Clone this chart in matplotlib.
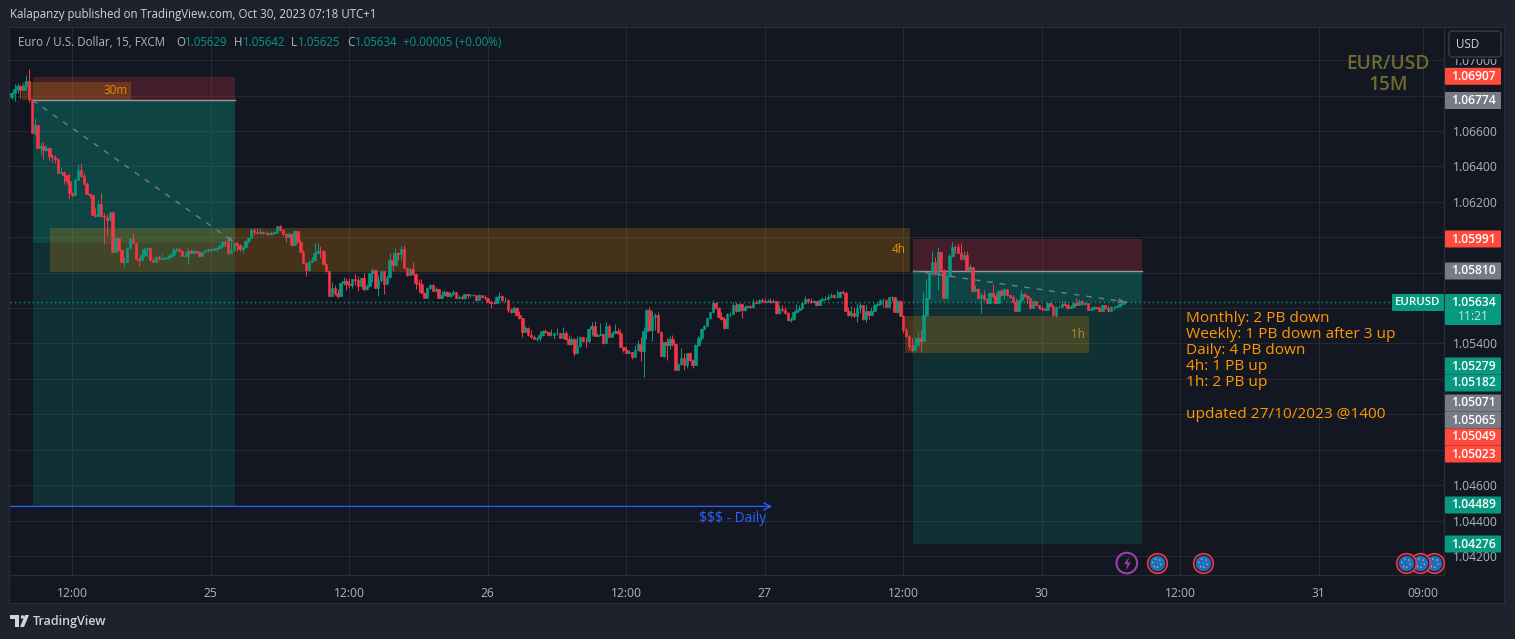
import matplotlib
matplotlib.use("Agg")
import numpy as np
import matplotlib.pyplot as plt
from matplotlib.patches import Rectangle, Polygon, FancyBboxPatch

W, H = 1515, 639
FONT = ['Open Sans', 'DejaVu Sans']
plt.rcParams['font.family'] = FONT

# prices in points above 1.00000 (1.05634 -> 5634)
first_open = 6790
closes = [
6813,6837,6856,6832,6854,6882,6779,6591,6634,6506,6515,6493,6506,6459,6455,6440,6365,6369,6352,6318,
6252,6239,6323,6380,6348,6301,6244,6239,6126,6120,6188,6120,6113,6098,6141,5919,5998,5928,5860,5860,
5938,5990,5970,5877,5872,5900,5934,5938,5872,5862,5891,5876,5877,5881,5887,5900,5928,5932,5925,5896,
5896,5923,5913,5923,5915,5896,5919,5923,5934,5928,5932,5941,5951,5975,5972,5913,5928,5970,5957,5932,
5943,5979,5998,6041,6032,6022,6032,6022,6026,6021,6026,6030,6064,6041,6017,6004,6019,5957,6035,5975,
5919,5853,5815,5862,5872,5909,5925,5922,5849,5809,5668,5711,5687,5668,5739,5753,5736,5730,5762,5758,
5724,5771,5707,5726,5796,5815,5715,5758,5809,5736,5777,5871,5843,5909,5903,5933,5828,5786,5820,5792,
5743,5736,5687,5659,5711,5728,5698,5706,5659,5674,5692,5668,5679,5692,5659,5662,5659,5677,5674,5674,
5675,5645,5674,5662,5655,5636,5630,5627,5664,5668,5645,5645,5589,5578,5598,5561,5542,5467,5485,5448,
5435,5425,5429,5448,5470,5467,5448,5448,5457,5457,5433,5457,5423,5395,5423,5344,5386,5438,5416,5414,
5482,5499,5444,5448,5451,5401,5499,5438,5457,5471,5457,5378,5363,5344,5354,5322,5363,5397,5358,5471,
5589,5476,5548,5561,5463,5329,5407,5392,5425,5397,5250,5282,5316,5279,5345,5307,5279,5392,5429,5480,
5501,5542,5576,5631,5602,5552,5538,5486,5565,5567,5617,5583,5621,5589,5608,5614,5604,5632,5627,5646,
5642,5636,5642,5636,5640,5570,5593,5589,5574,5533,5538,5580,5589,5599,5627,5649,5640,5632,5640,5617,
5646,5649,5653,5664,5674,5661,5661,5691,5687,5585,5561,5574,5555,5599,5617,5536,5585,5561,5585,5617,
5621,5646,5646,5608,5661,5664,5580,5642,5557,5476,5444,5388,5363,5392,5433,5414,5561,5655,5791,5858,
5793,5915,5815,5657,5781,5894,5947,5943,5913,5875,5900,5815,5834,5697,5706,5659,5674,5650,5627,5687,
5668,5631,5698,5674,5706,5674,5665,5636,5584,5646,5680,5670,5655,5599,5642,5618,5603,5593,5589,5631,
5612,5561,5604,5608,5623,5618,5599,5608,5631,5618,5640,5623,5631,5589,5597,5604,5602,5584,5616,5601,
5584,5604,5608,5612,5621,5633,5634]
highs = [
6822,6865,6873,6860,6865,6916,6950,6779,6672,6634,6536,6536,6521,6512,6470,6465,6440,6395,6376,6352,
6361,6258,6333,6414,6417,6361,6310,6252,6233,6163,6210,6248,6135,6131,6145,6135,6003,5994,5932,5891,
5943,5994,6022,5970,5887,5932,5943,5943,5938,5891,5896,5900,5906,5891,5900,5913,5943,5943,5938,5928,
5909,5938,5936,5932,5928,5919,5924,5932,5941,5938,5943,5947,5960,5981,5985,5988,5975,5975,5981,5960,
5951,5985,6003,6051,6051,6051,6051,6037,6037,6032,6037,6037,6066,6069,6045,6022,6032,6026,6041,6037,
5990,5928,5862,5872,5891,5966,5966,5950,5928,5856,5815,5749,5730,5706,5749,5777,5768,5768,5762,5792,
5781,5777,5800,5734,5800,5828,5818,5787,5815,5809,5787,5909,5914,5937,5914,5950,5956,5834,5824,5858,
5796,5762,5762,5692,5717,5736,5736,5721,5709,5698,5702,5694,5692,5702,5692,5674,5676,5681,5679,5679,
5679,5675,5679,5674,5672,5659,5645,5640,5668,5689,5672,5660,5649,5598,5611,5604,5585,5536,5499,5491,
5476,5448,5438,5470,5476,5480,5467,5482,5461,5489,5457,5491,5470,5448,5442,5429,5442,5442,5438,5438,
5485,5521,5527,5457,5517,5457,5521,5510,5467,5510,5486,5480,5382,5386,5363,5354,5392,5420,5435,5491,
5593,5604,5585,5574,5576,5471,5410,5429,5444,5448,5401,5292,5373,5345,5348,5350,5311,5397,5444,5486,
5504,5546,5580,5646,5636,5608,5580,5552,5570,5580,5636,5636,5631,5627,5617,5617,5617,5651,5646,5651,
5655,5655,5651,5655,5651,5642,5617,5617,5608,5580,5552,5585,5623,5617,5636,5668,5655,5655,5646,5642,
5651,5661,5670,5679,5683,5679,5702,5698,5702,5698,5608,5612,5608,5627,5627,5617,5617,5585,5608,5627,
5636,5649,5655,5651,5664,5670,5664,5649,5646,5561,5486,5448,5429,5439,5467,5476,5697,5764,5796,5922,
5890,5943,5919,5819,5806,5905,5971,5956,5966,5966,5924,5922,5847,5834,5730,5712,5683,5702,5655,5693,
5736,5683,5702,5706,5710,5708,5680,5674,5655,5651,5706,5683,5674,5655,5646,5642,5618,5612,5599,5634,
5631,5618,5612,5618,5642,5642,5631,5616,5636,5655,5649,5646,5636,5631,5604,5612,5608,5612,5619,5619,
5616,5610,5614,5616,5627,5638,5642]
lows = [
6779,6771,6813,6785,6835,6832,6766,6587,6577,6506,6465,6442,6489,6436,6427,6418,6365,6361,6301,6301,
6218,6226,6239,6323,6342,6301,6244,6220,6126,6116,6120,6116,5962,6013,6098,5913,5919,5925,5860,5834,
5860,5938,5966,5875,5840,5868,5890,5891,5868,5858,5859,5872,5872,5876,5879,5891,5894,5919,5919,5894,
5891,5849,5910,5913,5910,5891,5894,5913,5919,5925,5925,5919,5932,5947,5951,5906,5910,5925,5925,5925,
5913,5938,5966,6003,6013,6019,6019,6019,6013,6011,6013,6019,6026,6037,6013,5975,6000,5951,5957,5970,
5915,5849,5781,5811,5859,5868,5906,5881,5843,5805,5668,5668,5674,5658,5668,5730,5702,5711,5711,5730,
5698,5724,5698,5702,5721,5749,5711,5668,5749,5679,5736,5768,5811,5843,5871,5871,5824,5781,5786,5786,
5707,5692,5683,5655,5659,5706,5696,5694,5655,5659,5668,5664,5660,5672,5657,5655,5651,5649,5655,5664,
5668,5642,5645,5655,5649,5632,5602,5623,5630,5645,5636,5636,5579,5574,5578,5557,5538,5438,5463,5444,
5429,5423,5416,5416,5442,5461,5442,5444,5425,5448,5429,5429,5420,5391,5391,5329,5344,5382,5410,5382,
5404,5448,5444,5442,5446,5397,5401,5435,5439,5457,5452,5378,5350,5344,5344,5312,5322,5363,5301,5213,
5425,5472,5416,5476,5457,5329,5326,5307,5367,5386,5250,5250,5279,5250,5260,5301,5264,5279,5386,5416,
5476,5499,5536,5574,5599,5546,5533,5482,5489,5548,5565,5580,5583,5546,5585,5599,5602,5604,5621,5625,
5634,5632,5632,5631,5627,5567,5567,5580,5567,5527,5523,5533,5574,5585,5595,5623,5631,5627,5627,5614,
5617,5642,5646,5653,5661,5655,5657,5661,5679,5582,5555,5552,5552,5523,5570,5533,5523,5538,5561,5585,
5612,5617,5608,5604,5608,5642,5576,5570,5557,5457,5439,5363,5354,5363,5388,5354,5420,5555,5651,5787,
5787,5702,5811,5657,5657,5778,5890,5909,5909,5872,5875,5811,5811,5693,5693,5655,5574,5646,5623,5627,
5655,5627,5636,5668,5650,5670,5659,5631,5584,5642,5627,5665,5623,5595,5599,5612,5597,5589,5587,5589,
5610,5557,5548,5599,5604,5612,5595,5599,5604,5616,5618,5619,5616,5587,5587,5593,5593,5580,5584,5597,
5580,5584,5587,5604,5608,5619,5625]

# time axis
x_ticks = [21, 69, 117, 165, 213, 261, 309, 357, 405, 453, 489]
x_labels = ['12:00', '25', '12:00', '26', '12:00', '27', '12:00', '30', '12:00', '31', '09:00']
y_ticks = [1.042, 1.044, 1.046, 1.048, 1.050, 1.052, 1.054, 1.056, 1.058, 1.060, 1.062, 1.064, 1.066, 1.068, 1.070]
y_labels = ['1.04200', '1.04400', '1.04600', '', '', '', '1.05400', '', '', '', '1.06200', '1.06400', '1.06600', '1.06800', '1.07000']

# position tools: (bar start, bar end)
left_tool = (7.2, 77.5)
right_tool = (312.4, 391.7)
left_stop, left_entry, left_now, left_target = 1.06907, 1.06774, 1.05967, 1.04480
right_stop, right_entry, right_now, right_target = 1.05991, 1.05810, 1.05634, 1.04268
zones = [  # name, bar start, bar end, top, bottom
    ('4h', 13.4, 311.3, 1.06052, 1.05804),
    ('1h', 309.6, 373.3, 1.05555, 1.05346),
    ('30m', 3.4, 41.2, 1.06877, 1.06775),
]
daily_level = 1.04480
daily_span = (-0.6, 263.6)
last_price = 1.05634
event_bars = [396.9, 412.9, 483.3, 488.2, 493.0]
flash_bar = 386.5
event_price = 1.0416

# price tags: text, centre y in px, colour
GREEN, RED, GREY = '#089981', '#f7525f', '#787b86'
TAGRED = '#ff4a3d'
tags = [('1.06907', 76.3, TAGRED), ('1.06774', 100.5, GREY), ('1.05991', 239, TAGRED), ('1.05810', 271, GREY),
        ('1.05279', 366, GREEN), ('1.05182', 383, GREEN), ('1.05071', 403, GREY), ('1.05065', 420, GREY),
        ('1.05049', 437, TAGRED), ('1.05023', 454, TAGRED), ('1.04489', 505, GREEN), ('1.04276', 544, GREEN)]

BG = '#1e222d'
PANE = '#131722'
GRID = '#252935'
BORDER = '#2a2e39'
TXT = '#b2b5be'
UP, DOWN = '#089981', '#f23645'

fig = plt.figure(figsize=(W / 100, H / 100), dpi=100, facecolor=BG)
ax = fig.add_axes([10 / W, 1 - 575 / H, 1434 / W, 547 / H], facecolor=PANE)
P = 1 / 17708
ax.set_xlim(-0.6, 496.45)
ax.set_ylim(1.066 - (575 - 131) * P, 1.066 + (131 - 28) * P)

ax.set_xticks(x_ticks)
ax.set_xticklabels(x_labels)
ax.set_yticks(y_ticks)
ax.set_yticklabels(y_labels)
ax.yaxis.tick_right()
ax.tick_params(axis='y', length=0, pad=6.5, labelsize=8.7, labelcolor=TXT)
ax.tick_params(axis='x', length=0, pad=8.5, labelsize=8.7, labelcolor=TXT)
ax.grid(True, color=GRID, lw=0.75, zorder=0)
ax.set_axisbelow(True)
for s in ax.spines.values():
    s.set_color(BORDER)
    s.set_linewidth(0.9)
ax.spines['top'].set_visible(False)
ax.spines['left'].set_visible(False)


def box(x0, x1, y0, y1, color, alpha, z=1):
    ax.add_patch(Rectangle((x0, y0), x1 - x0, y1 - y0, fc=color, alpha=alpha, ec='none', zorder=z))


box(*left_tool, left_entry, left_stop, '#f23645', 0.22)
box(*left_tool, left_target, left_entry, '#089981', 0.2)
box(*left_tool, left_now, left_entry, '#089981', 0.2)
box(*right_tool, right_entry, right_stop, '#f23645', 0.22)
box(*right_tool, right_target, right_entry, '#089981', 0.2)
box(*right_tool, right_now, right_entry, '#089981', 0.2)
ax.plot(left_tool, [left_entry] * 2, color='#9598a1', lw=1.0, zorder=2)
ax.plot(right_tool, [right_entry] * 2, color='#9598a1', lw=1.0, zorder=2)
for name, x0, x1, top, bot in zones:
    box(x0, x1, bot, top, '#ff9800', 0.21)
    lab_col = {'4h': '#e8920c', '1h': '#b08e2c', '30m': '#e8880c'}[name]
    dx = {'4h': 1.4, '1h': 1.4, '30m': 1.0}[name]
    ax.text(x1 - dx, (top + bot) / 2, name, color=lab_col, fontsize=8.4, ha='right', va='center', zorder=6)

ax.plot([left_tool[0], left_tool[1]], [left_entry, left_now], color='#787b86', lw=1.0,
        ls=(0, (4, 5)), zorder=6)
ax.plot([right_tool[0], 386.5], [right_entry, last_price], color='#787b86', lw=1.0,
        ls=(0, (4, 5)), zorder=6)
for p0, p1, a, b in [(left_tool[0], left_tool[1], left_entry, left_now), (right_tool[0], 386.5, right_entry, last_price)]:
    ax.annotate('', xy=(p1, b), xytext=(p1 - 4, b + (a - b) * 4 / (p1 - p0)),
                arrowprops=dict(arrowstyle='->', color='#787b86', lw=0.9, mutation_scale=7), zorder=6)

xs = np.arange(len(closes))
c = np.array(closes)
h = np.array(highs)
l = np.array(lows)
o = np.array([first_open] + closes[:-1])
col = np.where(c >= o, UP, DOWN)
ax.vlines(xs, 1 + l / 1e5, 1 + h / 1e5, colors=col, lw=0.72, zorder=4)
ax.bar(xs, (c - o) / 1e5, bottom=1 + o / 1e5, width=0.88, color=col, lw=0.45, edgecolor=col, zorder=5)

ax.axhline(last_price, color=UP, lw=1.0, ls=(0, (1, 2.2)), zorder=3)

ax.annotate('', xy=(daily_span[1], daily_level), xytext=(daily_span[0], daily_level),
            arrowprops=dict(arrowstyle='->', color='#2962ff', lw=0.9, mutation_scale=13, shrinkA=0, shrinkB=0), zorder=6)
ax.text(250, daily_level - 12 * P, '$$$ - Daily', color='#2962ff', fontsize=9.9, ha='center', va='center', zorder=6)

# events
for i, b in enumerate(event_bars[::-1]):
    z = 7 + i * 0.1
    ax.scatter([b], [event_price], s=235, c='#f23645', lw=0, zorder=z)
    ax.scatter([b], [event_price], s=165, c='#131722', lw=0, zorder=z + 0.01)
    ax.scatter([b], [event_price], s=125, c='#1b6ec2', lw=0, zorder=z + 0.02)
    ax.scatter([b], [event_price], s=38, facecolors='none', edgecolors='#d8c13a', lw=1.0,
               linestyle=(0, (1, 2.4)), zorder=z + 0.03)
ax.scatter([flash_bar], [event_price], s=220, facecolors='none', edgecolors='#9c3fb0', lw=1.5, zorder=7)
bolt = [(0.25, 1), (-0.5, -0.1), (-0.02, -0.1), (-0.25, -1), (0.5, 0.15), (0.02, 0.15)]
ax.scatter([flash_bar], [event_price], s=95, marker=bolt, c='#9c3fb0', lw=0, zorder=7)


# figure-level text and tags, positions in pixels
def T(x, y, s, **kw):
    kw.setdefault('va', 'center')
    return fig.text(x / W, 1 - y / H, s, **kw)


def R(x0, y0, x1, y1, fc, ec='none', lw=0, rounded=0, z=2):
    if rounded:
        p = FancyBboxPatch((x0 + rounded, H - y1 + rounded), x1 - x0 - 2 * rounded, y1 - y0 - 2 * rounded,
                           boxstyle='round,pad=%g,rounding_size=%g' % (rounded, rounded), fc=fc, ec=ec, lw=lw,
                           transform=None, zorder=z)
    else:
        p = Rectangle((x0, H - y1), x1 - x0, y1 - y0, fc=fc, ec=ec, lw=lw, transform=None, zorder=z)
    fig.add_artist(p)
    return p


# outer border pieces of the pane
R(1444, 28, 1504, 603, PANE, z=-1)
R(10, 575, 1504, 603, PANE, z=-1)
R(10, 27, 1504, 28, BORDER, z=2)
R(1504, 27, 1505, 604, BORDER, z=2)
R(10, 603, 1505, 604, BORDER, z=2)
R(9, 27, 10, 604, BORDER, z=2)

for txt, yc, colr in tags:
    R(1445, yc - 8.5, 1501, yc + 8.5, colr, rounded=1)
    T(1473, yc, txt, color='white', fontsize=8.7, ha='center', fontweight='semibold')

R(1445, 294, 1501, 325, GREEN, rounded=1)
T(1473, 302.5, '1.05634', color='white', fontsize=8.7, ha='center', fontweight='semibold')
T(1473, 316, '11:21', color='#c8e6df', fontsize=8.7, ha='center')
R(1392, 294, 1444, 311, GREEN, rounded=1)
T(1418, 302.5, 'EURUSD', color='white', fontsize=8.2, ha='center', fontweight='semibold')

R(1446, 29, 1504, 58.5, PANE)
R(1449, 31, 1501, 57, '#131722', ec='#363a45', lw=1.1, rounded=4)
T(1468, 44.5, 'USD', color='#d1d4dc', fontsize=8.4, ha='center')

T(1388, 64, 'EUR/USD', color='#6e6b30', fontsize=13.8, ha='center', fontweight='semibold')
T(1388, 85, '15M', color='#6e6b30', fontsize=13.8, ha='center', fontweight='semibold')

notes = [('Monthly: 2 PB down', 318.5), ('Weekly: 1 PB down after 3 up', 334.5), ('Daily: 4 PB down', 350.5),
         ('4h: 1 PB up', 366.5), ('1h: 2 PB up', 382.5), ('updated 27/10/2023 @1400', 414.5)]
for s, yy in notes:
    T(1186, yy, s, color='#ff9800', fontsize=11.1)

T(10, 14.5, 'Kalapanzy published on TradingView.com, Oct 30, 2023 07:18 UTC+1', color='#d1d4dc', fontsize=8.3)
T(18, 42, 'Euro / U.S. Dollar, 15, FXCM', color=TXT, fontsize=8.3)
for xx, s, colr in [(176, 'O', TXT), (185, '1.05629', UP), (234, 'H', TXT), (243, '1.05642', UP),
                    (291, 'L', TXT), (298, '1.05625', UP), (347, 'C', TXT), (355, '1.05634', UP),
                    (403, '+0.00005 (+0.00%)', UP)]:
    T(xx, 42, s, color=colr, fontsize=8.3)

# TradingView mark
R(10, 615, 19, 619, '#d1d4dc')
R(15, 619, 19, 627, '#d1d4dc')
fig.add_artist(Polygon([(20, H - 627), (24, H - 627), (29, H - 615), (25, H - 615)], fc='#d1d4dc', ec='none',
                       transform=None, zorder=2))
fig.add_artist(plt.Circle((22.5, H - 617), 1.8, fc='#d1d4dc', ec='none', transform=None, zorder=2))
T(33, 621, 'TradingView', color='#d1d4dc', fontsize=9.0, fontweight='semibold')

fig.savefig('out.png', dpi=100, facecolor=BG)
